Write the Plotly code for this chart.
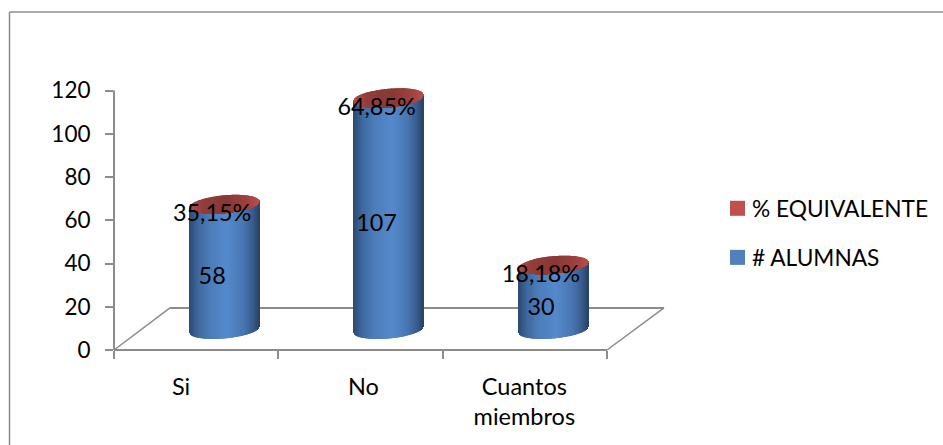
import numpy as np
import plotly.graph_objects as go

# Chart data
CATEGORIES = ["Si", "No", "Cuantos<br>miembros"]
ALUMNAS = [58, 107, 30]
EQUIVALENTE = [0.3515, 0.6485, 0.1818]
Y_TICKS = [0, 20, 40, 60, 80, 100, 120]
LEGEND_NAMES = ["% EQUIVALENTE", "# ALUMNAS"]

# Page and plot geometry; the value axis runs past 120 so the tallest cap fits
W, H = 943, 445
LEFT, RIGHT_EDGE, BOTTOM = 114, 664, 350
Y_PX = 259 / 120
Y_MAX = 130
TOP = BOTTOM - Y_MAX * Y_PX
UNIT_PX = 164.4                      # width of one category on the floor
X_MAX = (RIGHT_EDGE - LEFT) / UNIT_PX

# Pseudo-3D cylinder shape, in axis units
CENTER_SHIFT = 0.672
RX = 0.213
RY = 8.5 / Y_PX
TILT = 3.0 / Y_PX
FLOOR_LIFT = 20 / Y_PX
STRIPS = 71

FONT = "Lato"
GREY = "#8c8c8c"


def lerp_color(stops, t):
    for (t0, c0), (t1, c1) in zip(stops, stops[1:]):
        if t <= t1:
            f = (t - t0) / (t1 - t0)
            rgb = [round(a + (b - a) * f) for a, b in zip(c0, c1)]
            return f"rgb({rgb[0]},{rgb[1]},{rgb[2]})"
    return f"rgb{stops[-1][1]}"


BLUE_STOPS = [(0, (44, 74, 114)), (0.12, (62, 103, 158)), (0.3, (76, 125, 186)),
              (0.55, (84, 137, 204)), (0.78, (72, 118, 178)), (0.92, (56, 92, 140)),
              (1, (42, 68, 104))]
RED_STOPS = [(0, (176, 74, 72)), (0.2, (146, 60, 58)), (0.55, (136, 56, 54)),
             (0.85, (160, 66, 64)), (1, (184, 78, 76))]

u = np.linspace(-1, 1, STRIPS)
half_chord = np.sqrt(1 - u ** 2)
strip_w = 2 * RX / STRIPS * 1.25
t_frac = (u + 1) / 2

side_x, side_base, side_h, side_c = [], [], [], []
red_x, red_base, red_h, red_c = [], [], [], []
cap_x, cap_base, cap_h, cap_c = [], [], [], []
for i, (count, share) in enumerate(zip(ALUMNAS, EQUIVALENTE)):
    cx = i + CENTER_SHIFT
    lower = FLOOR_LIFT - RY * half_chord + TILT * u
    xs = cx + (RX - strip_w / 2) * u
    side_x += list(xs)
    side_base += list(lower)
    side_h += [count] * STRIPS
    side_c += [lerp_color(BLUE_STOPS, t) for t in t_frac]
    red_x += list(xs)
    red_base += list(lower + count)
    red_h += [share] * STRIPS
    red_c += [lerp_color(RED_STOPS, t) for t in t_frac]
    cap_x += list(xs)
    cap_base += list(lower + count + share)
    cap_h += list(2 * RY * half_chord)
    cap_c += [lerp_color(RED_STOPS, t) for t in t_frac]

fig = go.Figure()
for name, xs, base, hs, cs in [
    ("# ALUMNAS", side_x, side_base, side_h, side_c),
    ("% EQUIVALENTE", red_x, red_base, red_h, red_c),
    ("% EQUIVALENTE (cara)", cap_x, cap_base, cap_h, cap_c),
]:
    fig.add_trace(go.Bar(x=xs, y=hs, base=base, width=strip_w, name=name,
                         marker=dict(color=cs, line=dict(width=0)),
                         showlegend=False, hoverinfo="skip", cliponaxis=False))

# Value labels sit left of each cylinder's axis
label_x = [i + CENTER_SHIFT - 0.075 for i in range(3)]
fig.add_trace(go.Scatter(
    x=label_x,
    y=[FLOOR_LIFT + v / 2 - 5.2 for v in ALUMNAS],
    mode="text", text=[str(v) for v in ALUMNAS], textposition="middle center",
    textfont=dict(family=FONT, size=23.4, color="#000000"),
    showlegend=False, hoverinfo="skip", cliponaxis=False))
fig.add_trace(go.Scatter(
    x=label_x,
    y=[FLOOR_LIFT + v - 5.0 for v in ALUMNAS],
    mode="text",
    text=[f"{p * 100:.2f}".replace(".", ",") + "%" for p in EQUIVALENTE],
    textposition="middle center",
    textfont=dict(family=FONT, size=23.4, color="#000000"),
    showlegend=False, hoverinfo="skip", cliponaxis=False))


def px_x(v):
    return (v - LEFT) / (RIGHT_EDGE - LEFT)


def px_y(v):
    return (BOTTOM - v) / (BOTTOM - TOP)


def line(x0, y0, x1, y1, width=1.5, layer="below"):
    return dict(type="line", xref="paper", yref="paper", layer=layer,
                x0=px_x(x0), y0=px_y(y0), x1=px_x(x1), y1=px_y(y1),
                line=dict(color=GREY, width=width))


shapes = [
    # Outer chart frame
    line(9.5, 445, 9.5, 12.5), line(9.5, 12.5, 943, 12.5),
    # Value axis line, stopping at the last tick
    line(114, 350, 114, 91, 2),
    # Floor parallelogram
    line(114, 350, 607, 350, 2), line(114, 350, 170, 308, 1.5),
    line(170, 308, 664, 308, 2), line(607, 350, 664, 308, 1.5),
]

# Legend swatches and names
annotations = []
for name, col, yc in zip(LEGEND_NAMES, ["#C0504D", "#4F81BD"], [208.5, 257.5]):
    shapes.append(dict(type="rect", xref="paper", yref="paper", layer="above",
                       x0=px_x(730), x1=px_x(745), y0=px_y(yc - 7.5), y1=px_y(yc + 7.5),
                       fillcolor=col, line=dict(width=0)))
    annotations.append(dict(xref="paper", yref="paper", x=px_x(749.5), y=px_y(yc),
                            xanchor="left", yanchor="middle", showarrow=False, text=name,
                            font=dict(family=FONT, size=22.7, color="#000000")))

fig.update_layout(
    width=W, height=H,
    margin=dict(l=LEFT, r=W - RIGHT_EDGE, t=TOP, b=H - BOTTOM, pad=0),
    paper_bgcolor="#ffffff", plot_bgcolor="rgba(0,0,0,0)",
    barmode="overlay", showlegend=False,
    font=dict(family=FONT, color="#000000"),
    shapes=shapes, annotations=annotations,
    xaxis=dict(range=[0, X_MAX], showgrid=False, zeroline=False, showline=False,
               tickmode="array", tickvals=[0.408, 1.517, 2.496], ticktext=CATEGORIES,
               ticks="", ticklabelstandoff=20,
               tickfont=dict(family=FONT, size=23.5, color="#000000"),
               minor=dict(tickmode="array", tickvals=[0, 1, 2, 3], ticks="outside",
                          ticklen=8, tickwidth=1.5, tickcolor=GREY)),
    yaxis=dict(range=[0, Y_MAX], tickmode="array", tickvals=Y_TICKS,
               showgrid=False, zeroline=False, showline=False,
               ticks="outside", ticklen=8, tickwidth=1.5, tickcolor=GREY,
               ticklabelstandoff=10,
               tickfont=dict(family=FONT, size=22.5, color="#000000")),
)

fig.write_html("out.html", config={"displayModeBar": False})
